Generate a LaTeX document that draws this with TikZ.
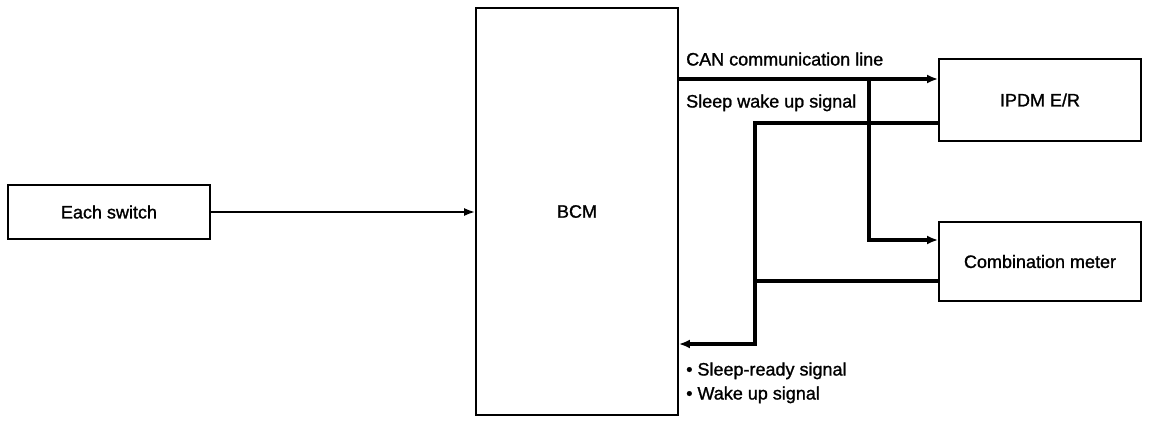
\documentclass[tikz,border=0pt]{standalone}
\usepackage{fontspec}
\setmainfont{Liberation Sans}
\newfontfamily\heavy[FakeBold=1.2]{Liberation Sans}
\usetikzlibrary{arrows.meta}
\begin{document}
\begin{tikzpicture}[x=1pt,y=-1pt,
  box/.style={draw,line width=1.8pt,inner sep=0pt,font=\heavy\fontsize{18}{21}\selectfont},
  thinarrow/.style={line width=1.8pt,-{Latex[length=11pt,width=8pt]}},
  thickline/.style={line width=4pt},
  thickarrow/.style={line width=4pt,-{Latex[length=11pt,width=9pt]}},
  lbl/.style={anchor=base west,inner sep=0pt,font=\heavy\fontsize{18}{21}\selectfont}]
\useasboundingbox (0,0) rectangle (1152,424);
\node[box,minimum width=202pt,minimum height=54pt] (sw) at (109,212) {Each switch};
\node[box,minimum width=202pt,minimum height=407pt] (bcm) at (577,211.5) {BCM};
\node[box,minimum width=202pt,minimum height=82pt] (ipdm) at (1040,100) {IPDM E/R};
\node[box,minimum width=202pt,minimum height=79pt] (cm) at (1040,261.5) {Combination meter};
% helper coordinates
\coordinate (canY) at (0,79);
\coordinate (br) at (869,79);
\coordinate (cmInY) at (0,240);
\coordinate (slY) at (0,123);
\coordinate (j) at (755,344);
\coordinate (cmOutY) at (0,281);
% connectors
\draw[thinarrow] (sw.east) -- (bcm.west |- sw.east);
\draw[thickarrow] (bcm.east |- canY) -- (ipdm.west |- canY);
\draw[thickarrow] (br) |- (cm.west |- cmInY);
\draw[thickarrow] (ipdm.west |- slY) -| (j) -- (bcm.east |- j);
\draw[thickline] (cm.west |- cmOutY) -- (j |- cmOutY);
% labels
\node[lbl] (l1) at (686,65.5) {CAN communication line};
\node[lbl] (l2) at (686,107.5) {Sleep wake up signal};
\node[lbl] (l3) at (686,375.5) {\textbullet\ Sleep-ready signal};
\node[lbl] (l4) at (686,399.5) {\textbullet\ Wake up signal};
\end{tikzpicture}
\end{document}
